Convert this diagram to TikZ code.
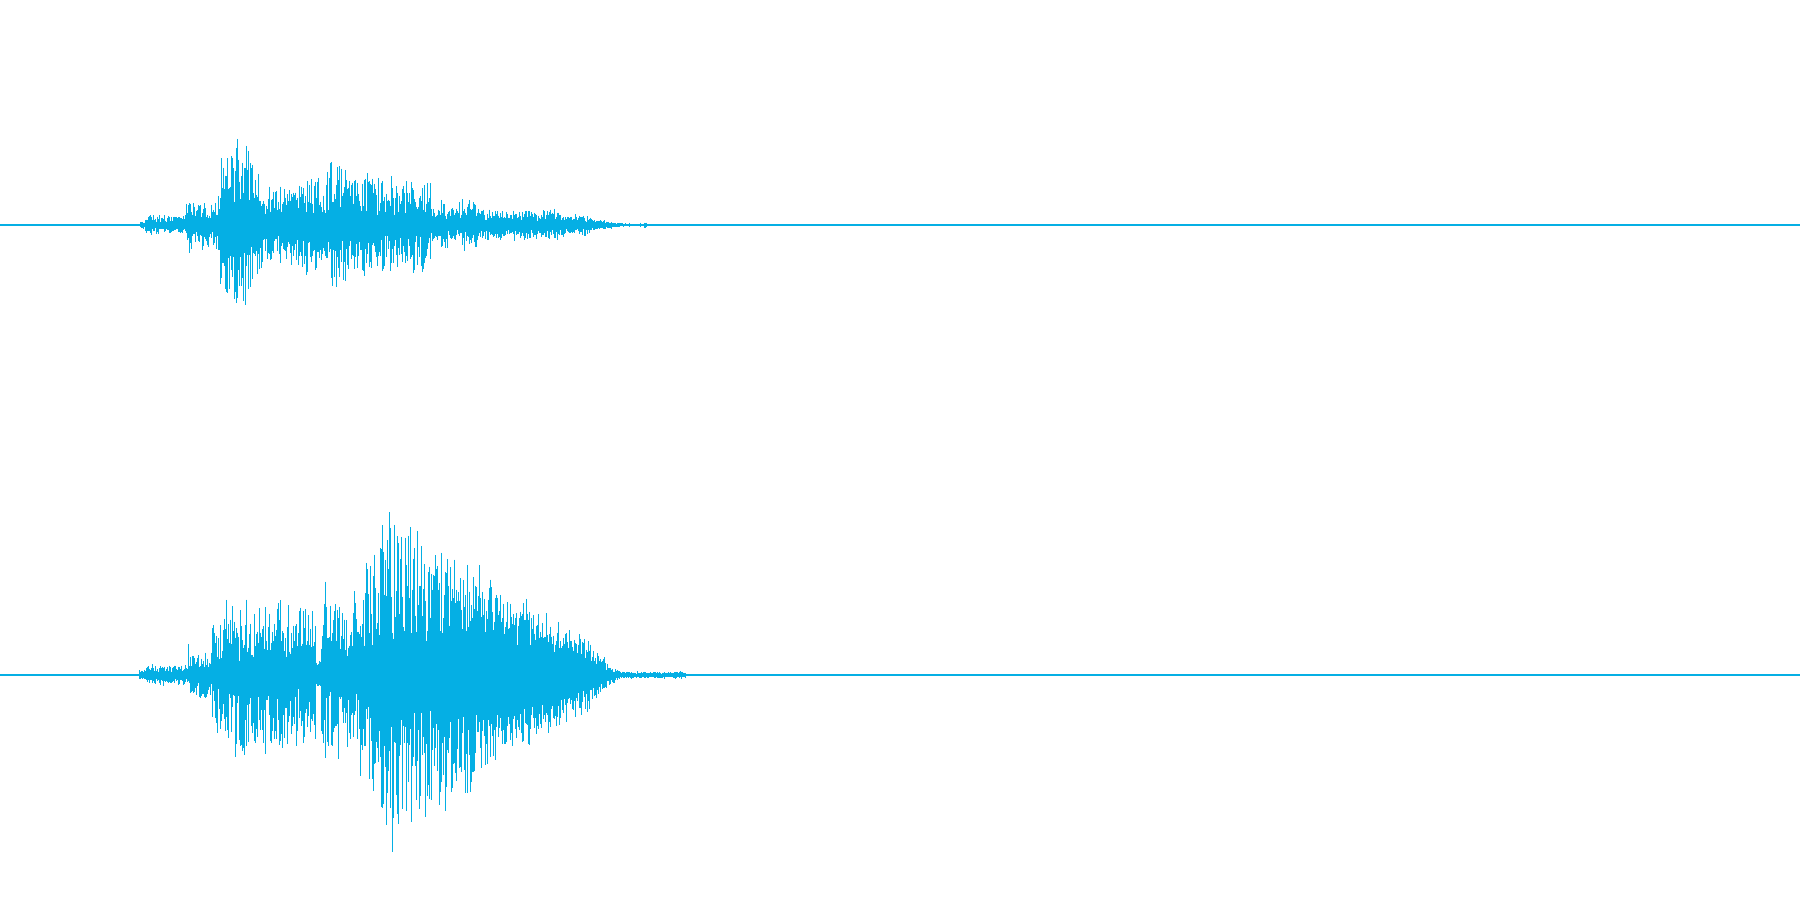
\documentclass[tikz,border=0pt]{standalone}
\definecolor{wave}{RGB}{5,175,228}
\tikzset{
  wavebar/.style={draw=wave,line width=0.28pt},
  axisline/.style={draw=wave,line width=0.3pt}
}
% one column: core c (always reached), spread s (uniform), spikes t (rare)
\newcommand\wvheight[1]{%
  \pgfmathsetmacro\wvRa{rnd}%
  \pgfmathsetmacro\wvRb{rnd}%
  \pgfmathsetmacro\wvRc{rnd}%
  \pgfmathsetmacro\wvQ{\wvRc*\wvRc*\wvRc}%
  \pgfmathsetmacro#1{\wvK*(\wvC*(0.7+0.4*\wvRa)+\wvS*\wvRb+\wvTk*\wvQ*\wvQ)}%
}
% #1 axis y, #2 gain, #3 segments
\newcommand\wvchannel[3]{%
  \def\wvK{#2}%
  \foreach \wxa/\wxb/\wca/\wcb/\wsa/\wsb/\wta/\wtb in {#3} {%
    \pgfmathtruncatemacro\wvN{\wxb-\wxa-1}%
    \foreach \i in {0,...,\wvN} {%
      \pgfmathsetmacro\wvT{\i/(\wxb-\wxa)}%
      \pgfmathsetmacro\wvC{\wca+(\wcb-\wca)*\wvT}%
      \pgfmathsetmacro\wvS{\wsa+(\wsb-\wsa)*\wvT}%
      \pgfmathsetmacro\wvTk{\wta+(\wtb-\wta)*\wvT}%
      \wvheight\wvP
      \wvheight\wvM
      \draw[wavebar] (\wxa+\i+0.5,#1-\wvP) -- (\wxa+\i+0.5,#1+\wvM);
    }%
  }%
}
\begin{document}
\begin{tikzpicture}[x=0.25pt,y=-0.25pt]
\useasboundingbox[fill=white] (0,0) rectangle (1800,900);
\pgfmathsetseed{2024}
% axis lines
\draw[axisline] (0,225) -- (1800,225);
\draw[axisline] (0,675) -- (1800,675);
% top channel
\wvchannel{225}{1.18}{140/145/2/2/1/2/0/0,
145/186/3/3/5/5/2/2,
186/200/5/5/15/15/8/8,
200/217/6/6/14/14/3/3,
217/221/6/20/14/50/3/15,
221/250/20/20/50/50/15/15,
250/262/16/12/40/25/8/8,
262/297/10/10/22/22/4/4,
297/330/11/11/28/28/15/15,
330/347/12/12/42/42/8/8,
347/372/11/11/30/30/8/8,
372/431/10/10/30/28/6/6,
431/441/8/7/8/8/0/0,
441/477/6/6/16/16/3/3,
477/559/5/5/9/8/2/2,
559/591/4/4/6/5/1/1,
591/612/3/2/2/1/0/0,
612/626/1.5/1/0.5/0.5/0/0,
629/630/2/2/0/0/0/0,
640/641/2/2/0/0/0/0,
644/647/2/2/0/0/0/0}
% bottom channel
\wvchannel{675}{1.22}{139/146/2/3/2/2/1/1,
146/188/3/3/5/5/2/2,
188/193/5/5/10/10/20/20,
193/212/7/7/12/12/3/3,
212/240/13/13/45/45/15/15,
240/246/14/14/55/55/25/25,
246/316/14/14/45/45/20/20,
316/321/8/8/5/5/0/0,
321/330/15/15/50/50/45/45,
330/360/15/15/45/45/12/12,
360/380/20/30/60/85/30/45,
380/420/30/32/95/90/45/40,
420/460/35/42/80/65/15/10,
460/475/42/42/55/55/8/8,
475/500/38/35/45/40/8/8,
500/530/34/30/35/30/6/6,
530/560/28/22/28/22/5/5,
560/590/20/15/20/15/3/3,
590/605/12/7/14/8/2/2,
605/620/5/2/6/2/0/0,
620/686/1.5/1.5/1.5/1.5/0/0}
\end{tikzpicture}
\end{document}
